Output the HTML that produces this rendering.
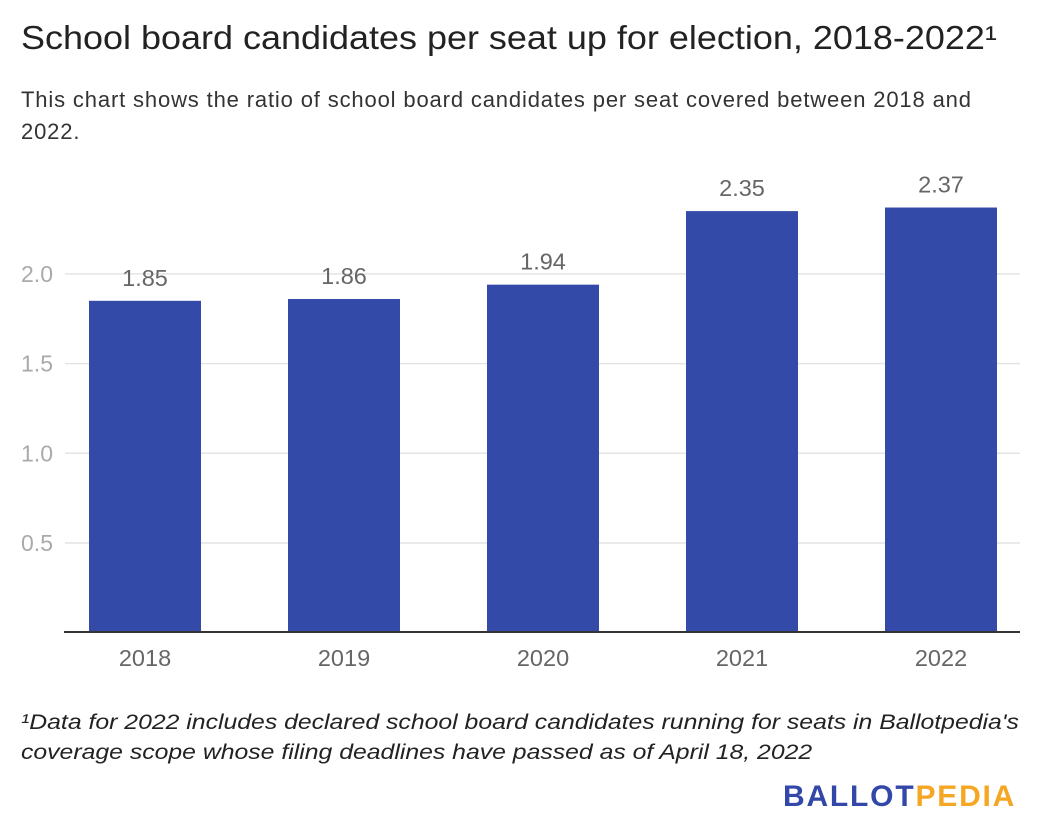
<!DOCTYPE html>
<html><head><meta charset="utf-8"><style>
body{margin:0;background:#fff;width:1040px;height:840px;overflow:hidden;font-family:"Liberation Sans",sans-serif}
h1{position:absolute;left:21px;top:19px;margin:0;font-size:33px;font-weight:normal;color:#222;white-space:nowrap;transform:scaleX(1.09);transform-origin:left top}
.sub{position:absolute;left:21px;top:84px;width:990px;font-size:22px;letter-spacing:0.85px;line-height:32px;color:#333}
.note{position:absolute;left:21px;top:708px;font-size:21px;line-height:30px;font-style:italic;color:#222;white-space:nowrap;transform:scaleX(1.18);transform-origin:left top}
.logo{position:absolute;left:783px;top:780px;font-size:30px;font-weight:bold;letter-spacing:1.8px}
</style></head><body>
<h1>School board candidates per seat up for election, 2018-2022¹</h1>
<div class="sub">This chart shows the ratio of school board candidates per seat covered between 2018 and 2022.</div>
<svg id="chart" width="1040" height="700" style="position:absolute;left:0;top:0"></svg>
<div class="note">¹Data for 2022 includes declared school board candidates running for seats in Ballotpedia's<br>coverage scope whose filing deadlines have passed as of April 18, 2022</div>
<div class="logo"><span style="color:#3347a8">BALLOT</span><span style="color:#f5a623">PEDIA</span></div>
<script>
const categories=["2018","2019","2020","2021","2022"];
const values=[1.85,1.86,1.94,2.35,2.37];
const labels=["1.85","1.86","1.94","2.35","2.37"];
const ticks=[0.5,1.0,1.5,2.0];
const tickLabels=["0.5","1.0","1.5","2.0"];
const svg=document.getElementById('chart');const NS="http://www.w3.org/2000/svg";
const y=v=>632.7-v*179.4;const x=i=>145+i*199;const bw=112;
function mk(t,a,txt){const e=document.createElementNS(NS,t);for(const k in a)e.setAttribute(k,a[k]);if(txt!=null)e.textContent=txt;svg.appendChild(e);return e;}
ticks.forEach((t,i)=>{
const g=mk('line',{x1:65,x2:1020,y1:y(t),y2:y(t),stroke:'#e4e4e4','stroke-width':1.5});


const l=mk('text',{x:53,y:y(t)+8,'text-anchor':'end','font-size':23,fill:'#aaa','font-family':'Liberation Sans'},tickLabels[i]);


});
values.forEach((v,i)=>{
const r=mk('rect',{x:x(i)-bw/2,y:y(v),width:bw,height:y(0)-y(v),fill:'#334aa9'});


const t=mk('text',{x:x(i),y:y(v)-15,'text-anchor':'middle','font-size':23.5,fill:'#666','font-family':'Liberation Sans'},labels[i]);


const c=mk('text',{x:x(i),y:666,'text-anchor':'middle','font-size':23.5,fill:'#666','font-family':'Liberation Sans'},categories[i]);


});
const b=mk('line',{x1:64,x2:1020,y1:632,y2:632,stroke:'#333','stroke-width':2});


</script>
</body></html>
